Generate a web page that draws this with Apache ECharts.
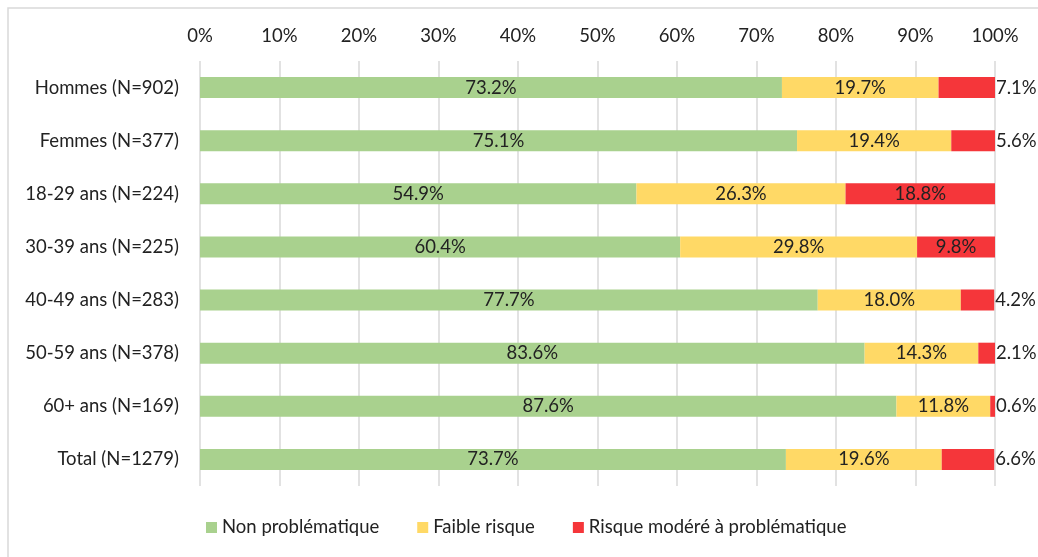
<!DOCTYPE html>
<html>
<head>
<meta charset="utf-8">
<script src="https://cdn.jsdelivr.net/npm/echarts@6/dist/echarts.min.js"></script>
<style>
  html, body { margin: 0; padding: 0; background: #fff; }
  #chart { width: 1038px; height: 557px; }
</style>
</head>
<body>
<div id="chart"></div>
<script>
const categories = ['Hommes (N=902)', 'Femmes (N=377)', '18-29 ans (N=224)', '30-39 ans (N=225)',
  '40-49 ans (N=283)', '50-59 ans (N=378)', '60+ ans (N=169)', 'Total (N=1279)'];
const nonProblematique = [73.2, 75.1, 54.9, 60.4, 77.7, 83.6, 87.6, 73.7];
const faibleRisque = [19.7, 19.4, 26.3, 29.8, 18.0, 14.3, 11.8, 19.6];
const risqueModere = [7.1, 5.6, 18.8, 9.8, 4.2, 2.1, 0.6, 6.6];
const seriesNames = ['Non problématique', 'Faible risque', 'Risque modéré à problématique'];
const colors = ['#A9D18E', '#FFD966', '#F5363A'];

const font = 'Lato';
const fs = 18.5;
const chart = echarts.init(document.getElementById('chart'));

const labelFmt = p => p.value.toFixed(1) + '%';

// small red segments get their label outside, to the right
const redData = risqueModere.map(v => ({
  value: v,
  label: v < 9 ? { position: 'right', distance: 1 } : { position: 'inside' }
}));

const option = {
  animation: false,
  textStyle: { fontFamily: font },
  graphic: [{
    type: 'rect',
    shape: { x: 8, y: 8, width: 1040, height: 560 },
    style: { fill: 'none', stroke: '#D9D9D9', lineWidth: 1.5 }
  }],
  grid: { left: 200, right: 43, top: 61, bottom: 71 },
  legend: {
    bottom: 15,
    left: 201,
    itemWidth: 11,
    itemHeight: 11,
    itemGap: 38,
    icon: 'rect',
    textStyle: { fontFamily: font, fontSize: fs, color: '#222' },
    data: seriesNames
  },
  xAxis: {
    type: 'value',
    position: 'top',
    min: 0,
    max: 100,
    interval: 10,
    axisLine: { show: false },
    axisTick: { show: false },
    axisLabel: { formatter: '{value}%', fontSize: fs, color: '#222', margin: 15 },
    splitLine: { lineStyle: { color: '#D9D9D9', width: 1.5 } }
  },
  yAxis: {
    type: 'category',
    inverse: true,
    data: categories,
    axisLine: { show: false },
    axisTick: { show: false },
    axisLabel: { fontSize: fs, color: '#222', margin: 21 }
  },
  series: [
    {
      name: seriesNames[0], type: 'bar', stack: 'all', barWidth: 21,
      data: nonProblematique, itemStyle: { color: colors[0] },
      label: { show: true, position: 'inside', formatter: labelFmt, fontSize: fs, color: '#222' }
    },
    {
      name: seriesNames[1], type: 'bar', stack: 'all', barWidth: 21,
      data: faibleRisque, itemStyle: { color: colors[1] },
      label: { show: true, position: 'inside', formatter: labelFmt, fontSize: fs, color: '#222' }
    },
    {
      name: seriesNames[2], type: 'bar', stack: 'all', barWidth: 21,
      data: redData, itemStyle: { color: colors[2] },
      label: { show: true, formatter: labelFmt, fontSize: fs, color: '#222' }
    }
  ]
};

chart.setOption(option);
</script>
</body>
</html>
